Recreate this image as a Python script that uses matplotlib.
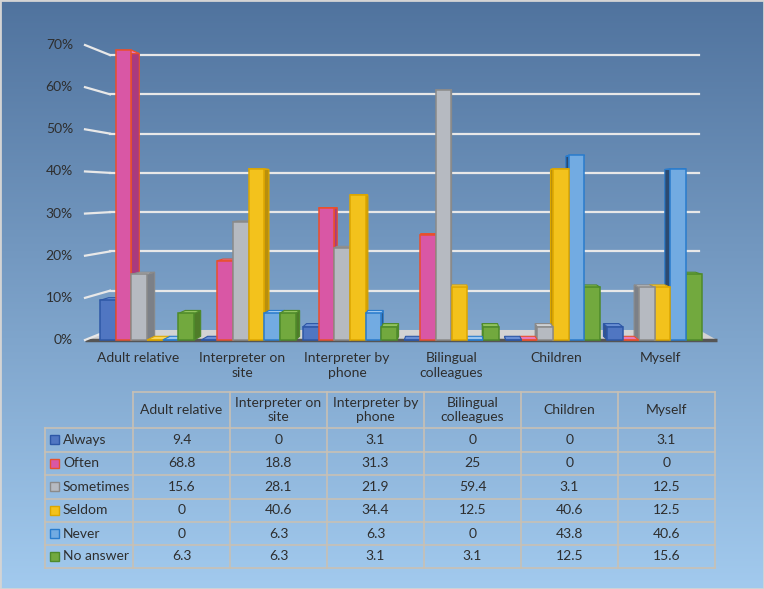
import matplotlib
matplotlib.use('Agg')
import matplotlib.pyplot as plt
import numpy as np
from matplotlib.patches import Polygon, Rectangle

# data
categories = ['Adult relative', 'Interpreter on\nsite', 'Interpreter by\nphone',
              'Bilingual\ncolleagues', 'Children', 'Myself']
series_names = ['Always', 'Often', 'Sometimes', 'Seldom', 'Never', 'No answer']
always = [9.4, 0, 3.1, 0, 0, 3.1]
often = [68.8, 18.8, 31.3, 25, 0, 0]
sometimes = [15.6, 28.1, 21.9, 59.4, 3.1, 12.5]
seldom = [0, 40.6, 34.4, 12.5, 40.6, 12.5]
never = [0, 6.3, 6.3, 0, 43.8, 40.6]
no_answer = [6.3, 6.3, 3.1, 3.1, 12.5, 15.6]
yticks = [0, 10, 20, 30, 40, 50, 60, 70]

series = [always, often, sometimes, seldom, never, no_answer]
# face, edge, side, top
styles = [
    ('#5076c2', '#2d57a6', '#34548f', '#6a8fd4'),
    ('#d957a5', '#e8502c', '#a93a7e', '#e77ab9'),
    ('#b6bac1', '#8a8a8a', '#7c8087', '#cfd2d6'),
    ('#f3c21c', '#dca600', '#b98f0c', '#f8d55a'),
    ('#72abe2', '#2a7ccc', '#2c4a70', '#9cc6ef'),
    ('#72a93e', '#4e8a2a', '#4f7c29', '#92c35e'),
]

plt.rcParams['font.family'] = ['Lato', 'DejaVu Sans']
TXT = '#2e2e2e'
FS = 9

W, H = 764, 589
fig = plt.figure(figsize=(W / 100, H / 100), dpi=100)

# background gradient
bg = fig.add_axes([0, 0, 1, 1])
grad = np.linspace(0, 1, 256).reshape(-1, 1)
top = np.array([0x50, 0x73, 0x9e]) / 255
bot = np.array([0xa2, 0xca, 0xee]) / 255
img = top + (bot - top) * grad[:, :, None]
bg.imshow(img, aspect='auto', extent=[0, 1, 0, 1])
bg.axis('off')

# chart geometry (pixels from top-left)
X0PX, XSTEP = 147, 101.5
Y0PX, YSTEP = 340, 4.214
xlo, xhi = -0.7, 5.7
ylo, yhi = -3, 75
left = (X0PX + xlo * XSTEP) / W
right = (X0PX + xhi * XSTEP) / W
bottom = 1 - (Y0PX - ylo * YSTEP) / H
topf = 1 - (Y0PX - yhi * YSTEP) / H
ax = fig.add_axes([left, bottom, right - left, topf - bottom])
ax.set_xlim(xlo, xhi)
ax.set_ylim(ylo, yhi)
ax.axis('off')

XV = (453 - X0PX) / XSTEP
YV = 35.0


def proj(x, y, d):
    return x + d * (XV - x), y + d * (YV - y)


# floor and back wall grid
D = 0.068
fl = (85 - X0PX) / XSTEP
fr = (717 - X0PX) / XSTEP
floor = Polygon([(fl, 0), (fr, 0), proj(fr, 0, D), proj(fl, 0, D)],
                closed=True, fc='#d3d3d3', ec='none', zorder=1)
ax.add_patch(floor)
ax.plot([fl, fr], [0, 0], color='#555555', lw=2.5, zorder=1.2,
        solid_capstyle='butt')
for v in yticks:
    bx0, by = proj(fl, v, D)
    bx1, _ = proj(fr, v, D)
    if v > 0:
        ax.plot([bx0, bx1], [by, by], color='#e8e8e8', lw=1.6, zorder=1.5)
    ax.plot([fl, bx0], [v, by], color='#e8e8e8', lw=1.6, zorder=1.5)
    ax.text((73 - X0PX) / XSTEP, v, f'{v}%', ha='right', va='center',
            fontsize=FS + 1, color=TXT)

# bars
x = np.arange(len(categories))
w = 0.155
db = 0.025
for i, vals in enumerate(series):
    face, edge, side, topc = styles[i]
    rects = ax.bar(x + (i - 2.5) * w, vals, w, align='center', color=face,
                   edgecolor=edge, lw=1.1)
    for r in rects:
        x1 = r.get_x()
        x2 = x1 + r.get_width()
        h = r.get_height()
        cx = x1 + w / 2
        z = 3 + (10 - abs(cx - XV)) * 0.1
        sx = x2 if cx < XV else x1
        sp = Polygon([(sx, 0), (sx, h), proj(sx, h, db), proj(sx, 0, db)],
                     closed=True, fc=side, ec=edge, lw=0.8, zorder=z)
        tp = Polygon([(x1, h), (x2, h), proj(x2, h, db), proj(x1, h, db)],
                     closed=True, fc=topc, ec=edge, lw=0.8, zorder=z)
        ax.add_patch(sp)
        ax.add_patch(tp)
        r.set_zorder(z + 0.01)

# category labels
for k, lab in enumerate(categories):
    lx, _ = proj(x[k], 0, -0.03)
    ax.text(lx, -2.85, lab, ha='center', va='top', fontsize=FS + 1,
            color=TXT, multialignment='center', linespacing=1.25)

# data table
tab = fig.add_axes([0, 0, 1, 1])
tab.set_xlim(0, W)
tab.set_ylim(H, 0)
tab.axis('off')
cols = [45, 133, 230, 327, 424, 521, 618, 715]
rows = [392, 428, 451.5, 475, 498.5, 522, 545, 568]
LC = '#c8c0b4'
tab.plot([cols[1], cols[-1]], [rows[0], rows[0]], color=LC, lw=1.2)
for yy in rows[1:]:
    tab.plot([cols[0], cols[-1]], [yy, yy], color=LC, lw=1.2)
tab.plot([cols[0], cols[0]], [rows[1], rows[-1]], color=LC, lw=1.2)
for xx in cols[1:]:
    tab.plot([xx, xx], [rows[0], rows[-1]], color=LC, lw=1.2)

for k, lab in enumerate(categories):
    tab.text((cols[k + 1] + cols[k + 2]) / 2, (rows[0] + rows[1]) / 2, lab,
             ha='center', va='center', fontsize=FS + 1, color=TXT,
             multialignment='center', linespacing=1.25)
for i, vals in enumerate(series):
    yc = (rows[i + 1] + rows[i + 2]) / 2
    tab.add_patch(Rectangle((50, yc - 4.5), 9, 9, fc=styles[i][0],
                            ec=styles[i][1], lw=1))
    tab.text(63, yc, series_names[i], ha='left', va='center',
             fontsize=FS + 1, color=TXT)
    for k, v in enumerate(vals):
        tab.text((cols[k + 1] + cols[k + 2]) / 2, yc, f'{v:g}', ha='center',
                 va='center', fontsize=FS + 1, color=TXT)

fig.patches.append(Rectangle((0, 0), 1, 1, transform=fig.transFigure,
                             fill=False, ec='#d4d4d4', lw=2))
fig.savefig('out.png', dpi=100)
